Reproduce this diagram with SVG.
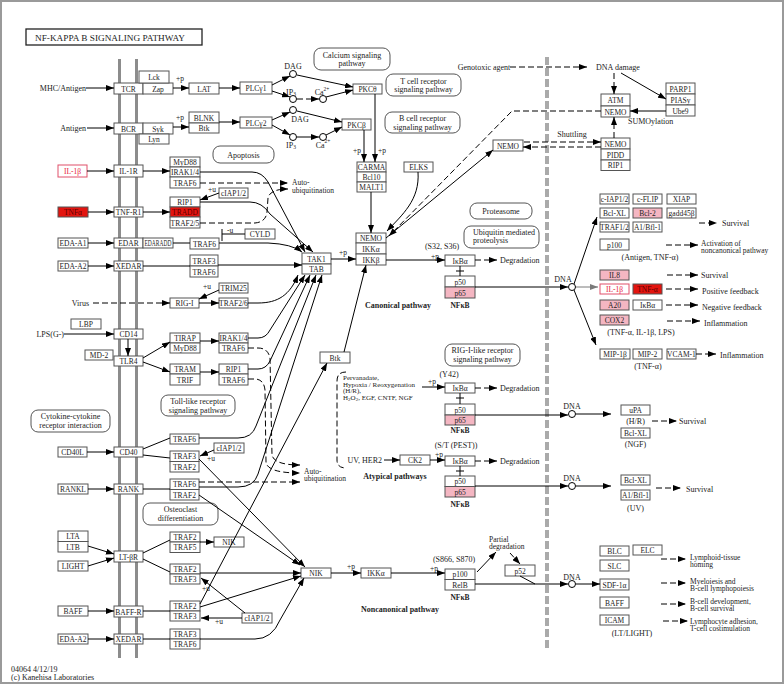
<svg xmlns="http://www.w3.org/2000/svg" width="784" height="684" viewBox="0 0 784 684">
<defs>
<marker id="a" viewBox="0 0 8 6" refX="8" refY="3" markerWidth="8" markerHeight="6" orient="auto" markerUnits="userSpaceOnUse"><path d="M0,0L8,3L0,6z" fill="#000"/></marker>
<marker id="ag" viewBox="0 0 8 6" refX="8" refY="3" markerWidth="8" markerHeight="6" orient="auto" markerUnits="userSpaceOnUse"><path d="M0,0L8,3L0,6z" fill="#7a7a7a"/></marker>
<style>
text{font-family:"Liberation Serif","Times New Roman",serif;font-size:8px;fill:#222}
.n{font-size:7.5px;text-anchor:middle}
.c{text-anchor:middle}
.e{text-anchor:end}
.b{font-weight:bold}
.s{font-size:7.5px}
.p{font-size:7px}
rect{fill:#fff;stroke:#555;stroke-width:1}
rect.pk{fill:#f4b6c2}
rect.rd{fill:#e3140f}
rect.rb{stroke:#e0506a}
text.rt{fill:#e8203a}
text.dt{fill:#5a0000}
rect.pw{fill:#fff;stroke:#555}
rect.bg{fill:#fff;stroke:#9a9a9a;stroke-width:2}
rect.tt{fill:#fff;stroke:#222;stroke-width:1.3}
.l{fill:none;stroke:#000;stroke-width:1}
.d{stroke-dasharray:6,3}
.g{stroke:#7a7a7a}
.m{stroke:#8c8c8c;stroke-width:3;fill:none}
.nm{stroke:#aaa;stroke-width:4;stroke-dasharray:8,3;fill:none}
circle{fill:#fff;stroke:#000;stroke-width:1}
</style>
</defs>
<rect class="bg" x="1" y="1" width="782" height="682"/>
<g id="title"><rect class="tt" x="26" y="29" width="176" height="16"/><text x="35" y="41" font-size="9" textLength="150" lengthAdjust="spacingAndGlyphs">NF-KAPPA B  SIGNALING  PATHWAY</text></g>
<g id="membranes">
<line class="m" x1="119.5" y1="59" x2="119.5" y2="658"/>
<line class="m" x1="136.5" y1="59" x2="136.5" y2="658"/>
<line class="nm" x1="547" y1="57" x2="547" y2="650"/>
</g>

<!-- ligands -->
<g id="MHC"><text class="e" x="86" y="91">MHC/Antigen</text></g>
<g id="Antigen"><text class="e" x="86" y="131">Antigen</text></g>
<g id="IL1b-l"><rect class="rb" x="58" y="165" width="29" height="12"/><text class="n rt" x="72.5" y="174">IL-1β</text></g>
<g id="TNFa-l"><rect class="rd" x="58" y="207" width="30" height="10"/><text class="n dt" x="73" y="215">TNFα</text></g>
<g id="EDA-A1"><rect x="58" y="238" width="30" height="10"/><text class="n" x="73" y="246">EDA-A1</text></g>
<g id="EDA-A2a"><rect x="58" y="261" width="30" height="10"/><text class="n" x="73" y="269">EDA-A2</text></g>
<g id="Virus"><text class="e" x="89" y="306">Virus</text></g>
<g id="LBP"><rect x="71" y="319" width="30" height="10"/><text class="n" x="86" y="327">LBP</text></g>
<g id="LPS"><text class="e" x="64" y="337">LPS(G-)</text></g>
<g id="MD2"><rect x="85" y="350" width="28" height="10"/><text class="n" x="99" y="358">MD-2</text></g>
<g id="CD40L"><rect x="58" y="447" width="29" height="10"/><text class="n" x="72.5" y="455">CD40L</text></g>
<g id="RANKL"><rect x="58" y="484" width="30" height="10"/><text class="n" x="73" y="492">RANKL</text></g>
<g id="LTA-LTB"><rect x="58" y="531" width="30" height="10.5"/><text class="n" x="73" y="539">LTA</text><rect x="58" y="541.5" width="30" height="10.5"/><text class="n" x="73" y="549.5">LTB</text></g>
<g id="LIGHT"><rect x="58" y="561" width="30" height="10"/><text class="n" x="73" y="569">LIGHT</text></g>
<g id="BAFF-l"><rect x="58" y="606" width="30" height="10"/><text class="n" x="73" y="614">BAFF</text></g>
<g id="EDA-A2b"><rect x="58" y="634" width="30" height="10"/><text class="n" x="73" y="642">EDA-A2</text></g>

<!-- receptors -->
<g id="TCR"><rect x="114" y="83" width="29" height="11"/><text class="n" x="128.5" y="91.5">TCR</text><rect x="143" y="83" width="30" height="11"/><text class="n" x="158" y="91.5">Zap</text><rect x="139" y="71" width="30" height="12"/><text class="n" x="154" y="80">Lck</text></g>
<g id="BCR"><rect x="114" y="123" width="29" height="11"/><text class="n" x="128.5" y="131.5">BCR</text><rect x="143" y="123" width="30" height="11"/><text class="n" x="158" y="131.5">Syk</text><rect x="139" y="134" width="30" height="10"/><text class="n" x="154" y="142">Lyn</text></g>
<g id="IL1R"><rect x="114" y="165" width="29" height="12"/><text class="n" x="128.5" y="174">IL-1R</text></g>
<g id="TNFR1"><rect x="114" y="207" width="29" height="10"/><text class="n" x="128.5" y="215">TNF-R1</text></g>
<g id="EDAR"><rect x="114" y="238" width="29" height="10"/><text class="n" x="128.5" y="246">EDAR</text><rect x="143" y="238" width="30" height="10"/><text class="n" x="158" y="246" textLength="27" lengthAdjust="spacingAndGlyphs">EDARADD</text></g>
<g id="XEDAR1"><rect x="114" y="261" width="29" height="10"/><text class="n" x="128.5" y="269">XEDAR</text></g>
<g id="CD14"><rect x="114" y="329" width="29" height="10"/><text class="n" x="128.5" y="337">CD14</text></g>
<g id="TLR4"><rect x="114" y="356" width="29" height="10"/><text class="n" x="128.5" y="364">TLR4</text></g>
<g id="CD40"><rect x="114" y="447" width="29" height="10"/><text class="n" x="128.5" y="455">CD40</text></g>
<g id="RANK"><rect x="114" y="484" width="29" height="10"/><text class="n" x="128.5" y="492">RANK</text></g>
<g id="LTbR"><rect x="114" y="551" width="29" height="11"/><text class="n" x="128.5" y="559.5">LT-βR</text></g>
<g id="BAFFR"><rect x="114" y="606" width="29" height="11"/><text class="n" x="128.5" y="614.5">BAFF-R</text></g>
<g id="XEDAR2"><rect x="114" y="634" width="29" height="10"/><text class="n" x="128.5" y="642">XEDAR</text></g>

<!-- cytoplasm column -->
<g id="LAT"><rect x="189" y="83" width="30" height="11"/><text class="n" x="204" y="91.5">LAT</text></g>
<g id="BLNK-Btk"><rect x="189" y="112" width="30" height="11"/><text class="n" x="204" y="120.5">BLNK</text><rect x="189" y="123" width="30" height="10"/><text class="n" x="204" y="131">Btk</text></g>
<g id="PLCg1"><rect x="240" y="82" width="32" height="12"/><text class="n" x="256" y="91">PLCγ1</text></g>
<g id="PLCg2"><rect x="240" y="117" width="32" height="11"/><text class="n" x="256" y="125.5">PLCγ2</text></g>
<g id="MyD88-a"><rect x="170" y="157" width="30" height="10"/><text class="n" x="185" y="165">MyD88</text><rect x="170" y="167" width="30" height="10"/><text class="n" x="185" y="175">IRAK1/4</text><rect x="170" y="177" width="30" height="11"/><text class="n" x="185" y="185.5">TRAF6</text></g>
<g id="RIP1-a"><rect x="170" y="197" width="30" height="10"/><text class="n" x="185" y="205">RIP1</text><rect class="rd" x="170" y="207" width="30" height="10"/><text class="n dt" x="185" y="215">TRADD</text><rect x="170" y="217" width="30" height="11"/><text class="n" x="185" y="225.5">TRAF2/5</text></g>
<g id="cIAP-a"><rect x="219" y="188" width="29" height="10"/><text class="n" x="233.5" y="196">cIAP1/2</text></g>
<g id="TRAF6-edar"><rect x="190" y="238" width="29" height="11"/><text class="n" x="204.5" y="246.5">TRAF6</text></g>
<g id="CYLD"><rect x="245" y="229" width="30" height="10"/><text class="n" x="260" y="237">CYLD</text></g>
<g id="TRAF36-x"><rect x="190" y="255" width="28" height="11"/><text class="n" x="204" y="263.5">TRAF3</text><rect x="190" y="266" width="28" height="11"/><text class="n" x="204" y="274.5">TRAF6</text></g>
<g id="TRIM25"><rect x="219" y="283" width="29" height="10"/><text class="n" x="233.5" y="291">TRIM25</text></g>
<g id="RIG-I"><rect x="170" y="298" width="29" height="10"/><text class="n" x="184.5" y="306">RIG-I</text></g>
<g id="TRAF26"><rect x="219" y="298" width="29" height="10"/><text class="n" x="233.5" y="306">TRAF2/6</text></g>
<g id="TIRAP"><rect x="170" y="333" width="30" height="10"/><text class="n" x="185" y="341">TIRAP</text><rect x="170" y="343" width="30" height="10"/><text class="n" x="185" y="351">MyD88</text></g>
<g id="IRAK-t"><rect x="219" y="333" width="29" height="10"/><text class="n" x="233.5" y="341">IRAK1/4</text><rect x="219" y="343" width="29" height="10"/><text class="n" x="233.5" y="351">TRAF6</text></g>
<g id="TRAM"><rect x="170" y="364" width="30" height="10"/><text class="n" x="185" y="372">TRAM</text><rect x="170" y="374" width="30" height="11"/><text class="n" x="185" y="382.5">TRIF</text></g>
<g id="RIP1-t"><rect x="219" y="364" width="29" height="10"/><text class="n" x="233.5" y="372">RIP1</text><rect x="219" y="374" width="29" height="11"/><text class="n" x="233.5" y="382.5">TRAF6</text></g>
<g id="TRAF6-cd40"><rect x="170" y="434" width="29" height="10"/><text class="n" x="184.5" y="442">TRAF6</text></g>
<g id="TRAF32-cd40"><rect x="170" y="451" width="29" height="10.5"/><text class="n" x="184.5" y="459">TRAF3</text><rect x="170" y="461.5" width="29" height="10.5"/><text class="n" x="184.5" y="469.5">TRAF2</text></g>
<g id="cIAP-b"><rect x="214" y="443" width="30" height="10"/><text class="n" x="229" y="451">cIAP1/2</text></g>
<g id="TRAF62-rank"><rect x="170" y="479" width="29" height="10.5"/><text class="n" x="184.5" y="487">TRAF6</text><rect x="170" y="489.5" width="29" height="10.5"/><text class="n" x="184.5" y="497.5">TRAF2</text></g>
<g id="TRAF25-lt"><rect x="170" y="532" width="30" height="10"/><text class="n" x="185" y="540">TRAF2</text><rect x="170" y="542" width="30" height="10.5"/><text class="n" x="185" y="550">TRAF5</text></g>
<g id="NIK1"><rect x="214" y="537" width="30" height="10"/><text class="n" x="229" y="545">NIK</text></g>
<g id="TRAF23-lt"><rect x="170" y="564" width="30" height="10"/><text class="n" x="185" y="572">TRAF2</text><rect x="170" y="574" width="30" height="10"/><text class="n" x="185" y="582">TRAF3</text></g>
<g id="TRAF23-baff"><rect x="170" y="601" width="30" height="10"/><text class="n" x="185" y="609">TRAF2</text><rect x="170" y="611" width="30" height="10"/><text class="n" x="185" y="619">TRAF3</text></g>
<g id="cIAP-c"><rect x="242" y="613" width="30" height="10"/><text class="n" x="257" y="621">cIAP1/2</text></g>
<g id="TRAF36-x2"><rect x="170" y="629" width="30" height="10"/><text class="n" x="185" y="637">TRAF3</text><rect x="170" y="639" width="30" height="10"/><text class="n" x="185" y="647">TRAF6</text></g>

<!-- pathway boxes -->
<g id="p-apoptosis"><rect class="pw" x="213" y="146" width="61" height="17" rx="7"/><text class="c" x="243.5" y="157.5">Apoptosis</text></g>
<g id="p-calcium"><rect class="pw" x="314" y="48" width="76" height="22" rx="7"/><text class="c" x="352" y="57.5">Calcium signaling<tspan x="352" dy="8.5">pathway</tspan></text></g>
<g id="p-tcr"><rect class="pw" x="386" y="74" width="75" height="22" rx="7"/><text class="c" x="423.5" y="83.5">T cell receptor<tspan x="423.5" dy="8.5">signaling pathway</tspan></text></g>
<g id="p-bcr"><rect class="pw" x="385" y="112" width="75" height="21" rx="7"/><text class="c" x="422.5" y="121">B cell receptor<tspan x="422.5" dy="8.5">signaling pathway</tspan></text></g>
<g id="p-proteasome"><rect class="pw" x="470" y="203" width="62" height="16" rx="7"/><text class="c" x="501" y="214">Proteasome</text></g>
<g id="p-ubiq"><rect class="pw" x="464" y="226" width="75" height="22" rx="7"/><text x="473" y="235">Ubiquitin mediated<tspan x="473" dy="8">proteolysis</tspan></text></g>
<g id="p-rig"><rect class="pw" x="445" y="344" width="75" height="22" rx="7"/><text class="c" x="482.5" y="353">RIG-I-like receptor<tspan x="482.5" dy="8.5">signaling pathway</tspan></text></g>
<g id="p-toll"><rect class="pw" x="161" y="395" width="74" height="21" rx="7"/><text class="c" x="198" y="404">Toll-like receptor<tspan x="198" dy="8.5">signaling pathway</tspan></text></g>
<g id="p-cytokine"><rect class="pw" x="31" y="410" width="79" height="22" rx="7"/><text class="c" x="70.5" y="419">Cytokine-cytokine<tspan x="70.5" dy="9">receptor interaction</tspan></text></g>
<g id="p-osteo"><rect class="pw" x="143" y="503" width="75" height="22" rx="7"/><text class="c" x="180.5" y="512">Osteoclast<tspan x="180.5" dy="9">differentiation</tspan></text></g>

<!-- middle -->
<g id="DAG1"><circle cx="293" cy="74" r="3.5"/><text class="c" x="293" y="69">DAG</text></g>
<g id="IP3a"><circle cx="293" cy="99" r="3.5"/><text class="c" x="291" y="95">IP<tspan font-size="5.5" dy="1">3</tspan></text></g>
<g id="Ca1"><circle cx="323" cy="99" r="3.5"/><text class="c" x="322" y="95">Ca<tspan font-size="5.5" dy="-4">2+</tspan></text></g>
<g id="DAG2"><circle cx="293" cy="110" r="3.5"/><text class="c" x="300" y="122">DAG</text></g>
<g id="IP3b"><circle cx="293" cy="137" r="3.5"/><text class="c" x="291" y="148">IP<tspan font-size="5.5" dy="1">3</tspan></text></g>
<g id="Ca2"><circle cx="323" cy="137" r="3.5"/><text class="c" x="323" y="148">Ca<tspan font-size="5.5" dy="-5">2+</tspan></text></g>
<g id="PKCt"><rect x="353" y="84" width="29" height="10"/><text class="n" x="367.5" y="92">PKCθ</text></g>
<g id="PKCb"><rect x="342" y="119" width="29" height="11"/><text class="n" x="356.5" y="127.5">PKCβ</text></g>
<g id="CARMA"><rect x="357" y="162" width="29" height="10"/><text class="n" x="371.5" y="170">CARMA</text><rect x="357" y="172" width="29" height="10"/><text class="n" x="371.5" y="180">Bcl10</text><rect x="357" y="182" width="29" height="10"/><text class="n" x="371.5" y="190">MALT1</text></g>
<g id="ELKS"><rect x="404" y="162" width="29" height="10"/><text class="n" x="418.5" y="170">ELKS</text></g>
<g id="IKK"><rect x="356" y="233" width="30" height="10"/><text class="n" x="371" y="241">NEMO</text><rect x="356" y="243" width="30" height="11"/><text class="n" x="371" y="251.5">IKKα</text><rect x="356" y="254" width="30" height="11"/><text class="n" x="371" y="262.5">IKKβ</text></g>
<g id="TAK1"><rect x="302" y="253" width="29" height="11"/><text class="n" x="316.5" y="261.5">TAK1</text><rect x="302" y="264" width="29" height="10"/><text class="n" x="316.5" y="272">TAB</text></g>
<g id="NEMO-c"><rect x="493" y="140" width="30" height="11"/><text class="n" x="508" y="148.5">NEMO</text></g>
<g id="IkBa1"><rect x="445" y="255" width="30" height="11"/><text class="n" x="460" y="263.5">IκBα</text></g>
<g id="NFkB1"><rect x="445" y="276" width="30" height="11"/><text class="n" x="460" y="284.5">p50</text><rect class="pk" x="445" y="287" width="30" height="11"/><text class="n" x="460" y="295.5">p65</text><text class="c b s" x="460" y="308">NFκB</text></g>
<g id="Btk2"><rect x="320" y="352" width="30" height="11"/><text class="n" x="335" y="360.5">Btk</text></g>
<g id="IkBa2"><rect x="445" y="383" width="30" height="10"/><text class="n" x="460" y="391">IκBα</text></g>
<g id="NFkB2"><rect x="445" y="404" width="30" height="11"/><text class="n" x="460" y="412.5">p50</text><rect class="pk" x="445" y="415" width="30" height="10"/><text class="n" x="460" y="423">p65</text><text class="c b s" x="460" y="433">NFκB</text></g>
<g id="CK2"><rect x="400" y="455" width="30" height="10"/><text class="n" x="415" y="463">CK2</text></g>
<g id="IkBa3"><rect x="445" y="456" width="30" height="10"/><text class="n" x="460" y="464">IκBα</text></g>
<g id="NFkB3"><rect x="445" y="476" width="30" height="10.5"/><text class="n" x="460" y="484">p50</text><rect class="pk" x="445" y="486.5" width="30" height="10.5"/><text class="n" x="460" y="494.5">p65</text><text class="c b s" x="460" y="507">NFκB</text></g>
<g id="NIK2"><rect x="301" y="568" width="30" height="10"/><text class="n" x="316" y="576">NIK</text></g>
<g id="IKKa2"><rect x="361" y="568" width="30" height="10"/><text class="n" x="376" y="576">IKKα</text></g>
<g id="NFkB4"><rect x="445" y="569" width="30" height="10.5"/><text class="n" x="460" y="577">p100</text><rect x="445" y="579.5" width="30" height="10.5"/><text class="n" x="460" y="587.5">RelB</text><text class="c b s" x="460" y="600">NFκB</text></g>
<g id="p52"><rect x="505" y="565" width="30" height="11"/><text class="n" x="520" y="573.5">p52</text></g>

<!-- nucleus upper -->
<g id="ATM"><rect x="601" y="94" width="29" height="12"/><text class="n" x="615.5" y="103">ATM</text><rect x="601" y="106" width="29" height="11"/><text class="n" x="615.5" y="114.5">NEMO</text></g>
<g id="PARP1"><rect x="666" y="83" width="29" height="11"/><text class="n" x="680.5" y="91.5">PARP1</text><rect x="666" y="94" width="29" height="11"/><text class="n" x="680.5" y="102.5">PIASy</text><rect x="666" y="105" width="29" height="11"/><text class="n" x="680.5" y="113.5">Ube9</text></g>
<g id="NEMO-n"><rect x="601" y="138" width="29" height="11"/><text class="n" x="615.5" y="146.5">NEMO</text><rect x="601" y="149" width="29" height="11"/><text class="n" x="615.5" y="157.5">PIDD</text><rect x="601" y="160" width="29" height="10.5"/><text class="n" x="615.5" y="168">RIP1</text></g>

<!-- target genes -->
<g id="cIAP-n"><rect x="600" y="194" width="29" height="10"/><text class="n" x="614.5" y="202">c-IAP1/2</text></g>
<g id="cFLIP"><rect x="633" y="194" width="29" height="10"/><text class="n" x="647.5" y="202">c-FLIP</text></g>
<g id="XIAP"><rect x="667" y="194" width="29" height="10"/><text class="n" x="681.5" y="202">XIAP</text></g>
<g id="BclXL1"><rect x="600" y="208" width="29" height="10"/><text class="n" x="614.5" y="216">Bcl-XL</text></g>
<g id="Bcl2"><rect class="pk" x="633" y="208" width="29" height="10"/><text class="n" x="647.5" y="216">Bcl-2</text></g>
<g id="gadd45b"><rect x="667" y="208" width="29" height="10"/><text class="n" x="681.5" y="216">gadd45β</text></g>
<g id="TRAF12"><rect x="600" y="222" width="29" height="10"/><text class="n" x="614.5" y="230">TRAF1/2</text></g>
<g id="A1Bfl1a"><rect x="633" y="222" width="29" height="10"/><text class="n" x="647.5" y="230">A1/Bfl-1</text></g>
<g id="p100n"><rect x="600" y="239" width="29" height="11"/><text class="n" x="614.5" y="247.5">p100</text></g>
<g id="IL8"><rect class="pk" x="600" y="270" width="29" height="10"/><text class="n" x="614.5" y="278">IL8</text></g>
<g id="IL1b-n"><rect class="rb" x="600" y="284" width="29" height="10"/><text class="n rt" x="614.5" y="292">IL-1β</text></g>
<g id="TNFa-n"><rect class="rd" x="633" y="284" width="29" height="10"/><text class="n dt" x="647.5" y="292">TNF-α</text></g>
<g id="A20"><rect class="pk" x="600" y="300" width="29" height="10"/><text class="n" x="614.5" y="308">A20</text></g>
<g id="IkBa-n"><rect x="633" y="300" width="29" height="10"/><text class="n" x="647.5" y="308">IκBα</text></g>
<g id="COX2"><rect class="pk" x="600" y="315" width="29" height="10"/><text class="n" x="614.5" y="323">COX2</text></g>
<g id="MIP1b"><rect x="600" y="349" width="30" height="10"/><text class="n" x="615" y="357">MIP-1β</text></g>
<g id="MIP2"><rect x="633" y="349" width="29" height="10"/><text class="n" x="647.5" y="357">MIP-2</text></g>
<g id="VCAM1"><rect x="667" y="349" width="29" height="10"/><text class="n" x="681.5" y="357">VCAM-1</text></g>
<g id="uPA"><rect x="621" y="405" width="29" height="10"/><text class="n" x="635.5" y="413">uPA</text></g>
<g id="BclXL2"><rect x="621" y="428" width="29" height="10"/><text class="n" x="635.5" y="436">Bcl-XL</text></g>
<g id="BclXL3"><rect x="621" y="475" width="29" height="10"/><text class="n" x="635.5" y="483">Bcl-XL</text></g>
<g id="A1Bfl1b"><rect x="621" y="490" width="29" height="10"/><text class="n" x="635.5" y="498">A1/Bfl-1</text></g>
<g id="BLC"><rect x="600" y="546" width="29" height="10"/><text class="n" x="614.5" y="554">BLC</text></g>
<g id="ELC"><rect x="633" y="545" width="29" height="10"/><text class="n" x="647.5" y="553">ELC</text></g>
<g id="SLC"><rect x="600" y="560" width="29" height="11"/><text class="n" x="614.5" y="568.5">SLC</text></g>
<g id="SDF1a"><rect x="600" y="579" width="29" height="11"/><text class="n" x="614.5" y="587.5">SDF-1α</text></g>
<g id="BAFF-n"><rect x="600" y="597" width="29" height="11"/><text class="n" x="614.5" y="605.5">BAFF</text></g>
<g id="ICAM"><rect x="600" y="615" width="29" height="10"/><text class="n" x="614.5" y="623">ICAM</text></g>
<g id="DNA1"><circle cx="572" cy="287" r="3.5"/><text class="c" x="563" y="282">DNA</text></g>
<g id="DNA2"><circle cx="572" cy="414" r="3.5"/><text class="c" x="572" y="409">DNA</text></g>
<g id="DNA3"><circle cx="572" cy="486" r="3.5"/><text class="c" x="572" y="481">DNA</text></g>
<g id="DNA4"><circle cx="572" cy="584" r="3.5"/><text class="c" x="572" y="580">DNA</text></g>

<!-- labels -->
<g id="labels">
<text x="176" y="81" class="s">+p</text>
<text x="176" y="120" class="s">+p</text>
<text x="208" y="192" class="s">+u</text>
<text x="227" y="233" class="s">-u</text>
<text x="203" y="289" class="s">+u</text>
<text x="207" y="461" class="s">+u</text>
<text x="202" y="591" class="s">+u</text>
<text x="215" y="624" class="s">+u</text>
<text x="353" y="153" class="s">+p</text>
<text x="378" y="153" class="s">+p</text>
<text x="339" y="255" class="s">+p</text>
<text class="c" x="442" y="249">(S32, S36)</text>
<text x="431" y="259" class="s">+p</text>
<text class="s" x="292" y="185">Auto-<tspan x="292" dy="7.5">ubiquitination</tspan></text>
<text class="s" x="304" y="473.5">Auto-<tspan x="304" dy="7.5">ubiquitination</tspan></text>
<text x="500" y="263">Degradation</text>
<text x="500" y="391">Degradation</text>
<text x="500" y="464">Degradation</text>
<text class="c b" x="398" y="308">Canonical pathway</text>
<text class="c b" x="395" y="479">Atypical pathways</text>
<text class="c b" x="400" y="612">Noncanonical pathway</text>
<text class="p" x="343" y="380">Pervanadate,<tspan x="343" dy="6.7">Hypoxia / Reoxygenation</tspan><tspan x="343" dy="6.7">(H/R),</tspan><tspan x="343" dy="6.7">H</tspan><tspan font-size="5" dy="1">2</tspan><tspan dy="-1">O</tspan><tspan font-size="5" dy="1">2</tspan><tspan dy="-1">, EGF, CNTF, NGF</tspan></text>
<text x="428" y="384" class="s">+p</text>
<text class="c" x="449" y="377">(Y42)</text>
<text class="e" x="382" y="463">UV, HER2</text>
<text x="435" y="457" class="s">+p</text>
<text class="c" x="456" y="448">(S/T (PEST))</text>
<text x="347" y="569" class="s">+p</text>
<text x="430" y="571" class="s">+p</text>
<text class="c" x="454" y="562">(S866, S870)</text>
<text class="s" x="489" y="541.5">Partial<tspan x="489" dy="7.5">degradation</tspan></text>
<text x="484" y="70" class="c">Genotoxic agent</text>
<text x="596" y="70">DNA damage</text>
<text x="628" y="124">SUMOylation</text>
<text class="c" x="572" y="137">Shuttling</text>
<text x="722" y="226">Survival</text>
<text class="s" x="701" y="245.5">Activation of<tspan x="701" dy="7.5">noncanonical pathway</tspan></text>
<text class="c" x="650" y="260">(Antigen, TNF-α)</text>
<text x="701" y="278">Survival</text>
<text x="702" y="294">Positive feedback</text>
<text x="702" y="310">Negative feedback</text>
<text x="704" y="326">Inflammation</text>
<text class="c" x="641" y="335">(TNF-α, IL-1β, LPS)</text>
<text x="720" y="358">Inflammation</text>
<text class="c" x="648" y="369">(TNF-α)</text>
<text class="c" x="635.5" y="424">(H/R)</text>
<text class="c" x="635.5" y="447">(NGF)</text>
<text x="679" y="424">Survival</text>
<text class="c" x="635.5" y="511">(UV)</text>
<text x="686" y="492">Survival</text>
<text class="c" x="632" y="636">(LT/LIGHT)</text>
<text class="s" x="690" y="559.5">Lymphoid-tissue<tspan x="690" dy="7.5">homing</tspan></text>
<text class="s" x="690" y="583.5">Myeloiesis and<tspan x="690" dy="7.5">B-cell lymphopoiesis</tspan></text>
<text class="s" x="690" y="603.5">B-cell development,<tspan x="690" dy="7.5">B-cell survival</tspan></text>
<text class="s" x="690" y="623.5">Lymphocyte adhesion,<tspan x="690" dy="7.5">T-cell costimulation</tspan></text>
<text x="11" y="672">04064 4/12/19<tspan x="11" dy="8">(c) Kanehisa Laboratories</tspan></text>
</g>

<g id="connectors" class="l">
<path class="l" marker-end="url(#a)" d="M86,88H114"/>
<path class="l" marker-end="url(#a)" d="M87,128H114"/>
<path class="l" marker-end="url(#a)" d="M87,171H114"/>
<path class="l" marker-end="url(#a)" d="M88,212H114"/>
<path class="l" marker-end="url(#a)" d="M88,243H114"/>
<path class="l" marker-end="url(#a)" d="M88,266H114"/>
<path class="l d" marker-end="url(#a)" d="M93,303H170"/>
<path class="l" marker-end="url(#a)" d="M64,334H114"/>
<path class="l" marker-end="url(#a)" d="M128,339V356"/>
<path class="l" marker-end="url(#a)" d="M87,452H114"/>
<path class="l" marker-end="url(#a)" d="M88,489H114"/>
<path class="l" marker-end="url(#a)" d="M88,546L114,554"/>
<path class="l" marker-end="url(#a)" d="M88,566L114,558"/>
<path class="l" marker-end="url(#a)" d="M88,611H114"/>
<path class="l" marker-end="url(#a)" d="M88,639H114"/>
<path class="l" marker-end="url(#a)" d="M173,88H189"/>
<path class="l" marker-end="url(#a)" d="M173,127H189"/>
<path class="l" marker-end="url(#a)" d="M219,88H240"/>
<path class="l" marker-end="url(#a)" d="M219,122H240"/>
<path class="l" marker-end="url(#a)" d="M272,85L290,76"/>
<path class="l" marker-end="url(#a)" d="M272,91L290,97"/>
<path class="l d" marker-end="url(#a)" d="M297,99H319"/>
<path class="l" marker-end="url(#a)" d="M297,75L353,87"/>
<path class="l" marker-end="url(#a)" d="M326,97L353,90"/>
<path class="l" marker-end="url(#a)" d="M272,120L290,112"/>
<path class="l" marker-end="url(#a)" d="M272,125L290,135"/>
<path class="l" marker-end="url(#a)" d="M297,137H319"/>
<path class="l" marker-end="url(#a)" d="M297,111L342,122"/>
<path class="l" marker-end="url(#a)" d="M326,135L342,127"/>
<path class="l" marker-end="url(#a)" d="M364,130V162"/>
<path class="l" marker-end="url(#a)" d="M375,94V162"/>
<path class="l" marker-end="url(#a)" d="M371,192V233"/>
<path class="l" marker-end="url(#a)" d="M418,172C420,200 402,215 387,231"/>
<path class="l d" marker-end="url(#a)" d="M601,111H512L389,236"/>
<path class="l" marker-end="url(#a)" d="M386,238L493,150"/>
<path class="l d" marker-end="url(#a)" d="M524,142H601"/>
<path class="l d" marker-end="url(#a)" d="M601,147H523"/>
<path class="l d" marker-end="url(#a)" d="M510,67H587"/>
<path class="l d" marker-end="url(#a)" d="M614,73V94"/>
<path class="l" marker-end="url(#a)" d="M621,73L666,99"/>
<path class="l" marker-end="url(#a)" d="M666,111H630"/>
<path class="l d" marker-end="url(#a)" d="M614,138V117"/>
<path class="l" marker-end="url(#a)" d="M143,171H170"/>
<path class="l" marker-end="url(#a)" d="M143,212H170"/>
<path class="l" marker-end="url(#a)" d="M219,193L200,200"/>
<path class="l" d="M173,243H190"/>
<path class="l" d="M245,234H222M222,229V241"/>
<path class="l" d="M143,266H190"/>
<path class="l" marker-end="url(#a)" d="M218,265H302"/>
<path class="l" marker-end="url(#a)" d="M219,243H268Q292,244 302,252"/>
<path class="l d" marker-end="url(#a)" d="M200,183H288"/>
<path class="l d" marker-end="url(#a)" d="M200,223H255Q266,222 267,212L268,198Q270,189 288,189"/>
<path class="l" marker-end="url(#a)" d="M200,172H252Q262,172 268,182L305,252"/>
<path class="l" marker-end="url(#a)" d="M200,202H250Q262,202 270,214L313,252"/>
<path class="l" marker-end="url(#a)" d="M219,290L199,299"/>
<path class="l" marker-end="url(#a)" d="M199,303H219"/>
<path class="l" marker-end="url(#a)" d="M248,303H258C278,303 290,295 298,275"/>
<path class="l" marker-end="url(#a)" d="M143,358L170,342"/>
<path class="l" marker-end="url(#a)" d="M143,362L170,372"/>
<path class="l" marker-end="url(#a)" d="M200,341H219"/>
<path class="l" marker-end="url(#a)" d="M200,372H219"/>
<path class="l" marker-end="url(#a)" d="M248,338H258Q266,338 270,330L305,275"/>
<path class="l" marker-end="url(#a)" d="M248,369H258Q266,369 270,361L310,275"/>
<path class="l d" marker-end="url(#a)" d="M248,348H258Q268,348 270,358L272,455Q274,465 300,465"/>
<path class="l d" marker-end="url(#a)" d="M248,379H256Q264,380 265,390L266,462Q267,473 300,473"/>
<path class="l" d="M143,449L170,438"/>
<path class="l" d="M143,455L170,458"/>
<path class="l" marker-end="url(#a)" d="M214,450L200,456"/>
<path class="l" marker-end="url(#a)" d="M199,438H238Q252,438 256,426L316,275"/>
<path class="l" marker-end="url(#a)" d="M199,459L305,567"/>
<path class="l" d="M143,489H170"/>
<path class="l d" marker-end="url(#a)" d="M199,482H300"/>
<path class="l" marker-end="url(#a)" d="M199,487H238Q254,487 258,474L322,275"/>
<path class="l" marker-end="url(#a)" d="M199,495L300,565"/>
<path class="l" d="M143,553L170,540"/>
<path class="l" d="M143,559L170,572"/>
<path class="l" marker-end="url(#a)" d="M200,542H214"/>
<path class="l" marker-end="url(#a)" d="M200,573H301"/>
<path class="l" d="M143,611H170"/>
<path class="l" marker-end="url(#a)" d="M200,604L327,363"/>
<path class="l" marker-end="url(#a)" d="M200,607L301,576"/>
<path class="l" marker-end="url(#a)" d="M245,613L201,578"/>
<path class="l" marker-end="url(#a)" d="M242,618H201"/>
<path class="l" d="M143,639H170"/>
<path class="l" marker-end="url(#a)" d="M200,639H255Q272,639 280,620L304,578"/>
<path class="l" marker-end="url(#a)" d="M344,352L366,265"/>
<path class="l" marker-end="url(#a)" d="M331,259H356"/>
<path class="l" marker-end="url(#a)" d="M386,260H445"/>
<path class="l d" marker-end="url(#a)" d="M475,260H497"/>
<path class="l" d="M460,266V276M456,271H464"/>
<path class="l" marker-end="url(#a)" d="M475,287H568"/>
<path class="l" marker-end="url(#a)" d="M574,284L597,217"/>
<path class="l g" marker-end="url(#ag)" d="M576,287H598"/>
<path class="l" marker-end="url(#a)" d="M574,290L596,345"/>
<path class="l d" d="M346,372Q337,372 337,381V460Q337,468 346,468"/>
<path class="l" marker-end="url(#a)" d="M422,387H445"/>
<path class="l d" marker-end="url(#a)" d="M475,388H497"/>
<path class="l" d="M460,393V404M456,398H464"/>
<path class="l" marker-end="url(#a)" d="M475,415H568"/>
<path class="l" marker-end="url(#a)" d="M576,414H611"/>
<path class="l" marker-end="url(#a)" d="M384,460H400"/>
<path class="l" marker-end="url(#a)" d="M430,460H445"/>
<path class="l d" marker-end="url(#a)" d="M475,461H497"/>
<path class="l" d="M460,466V476M456,471H464"/>
<path class="l" marker-end="url(#a)" d="M475,486H568"/>
<path class="l" marker-end="url(#a)" d="M576,486H611"/>
<path class="l" marker-end="url(#a)" d="M331,573H361"/>
<path class="l" marker-end="url(#a)" d="M391,573H445"/>
<path class="l" marker-end="url(#a)" d="M477,572L496,552"/>
<path class="l d" marker-end="url(#a)" d="M510,553L520,564"/>
<path class="l" d="M475,584H535L520,576"/>
<path class="l" marker-end="url(#a)" d="M535,584H568"/>
<path class="l" marker-end="url(#a)" d="M576,584H600"/>
<path class="l d" marker-end="url(#a)" d="M699,223H717"/>
<path class="l d" marker-end="url(#a)" d="M666,245H698"/>
<path class="l d" marker-end="url(#a)" d="M667,275H698"/>
<path class="l d" marker-end="url(#a)" d="M666,289H698"/>
<path class="l d" marker-end="url(#a)" d="M666,305H698"/>
<path class="l d" marker-end="url(#a)" d="M667,321H700"/>
<path class="l d" marker-end="url(#a)" d="M696,354H716"/>
<path class="l d" marker-end="url(#a)" d="M652,421H677"/>
<path class="l d" marker-end="url(#a)" d="M656,488H681"/>
<path class="l d" marker-end="url(#a)" d="M661,559H686"/>
<path class="l d" marker-end="url(#a)" d="M661,583H686"/>
<path class="l d" marker-end="url(#a)" d="M661,604H686"/>
<path class="l d" marker-end="url(#a)" d="M663,621H688"/>
</g>
</svg>
